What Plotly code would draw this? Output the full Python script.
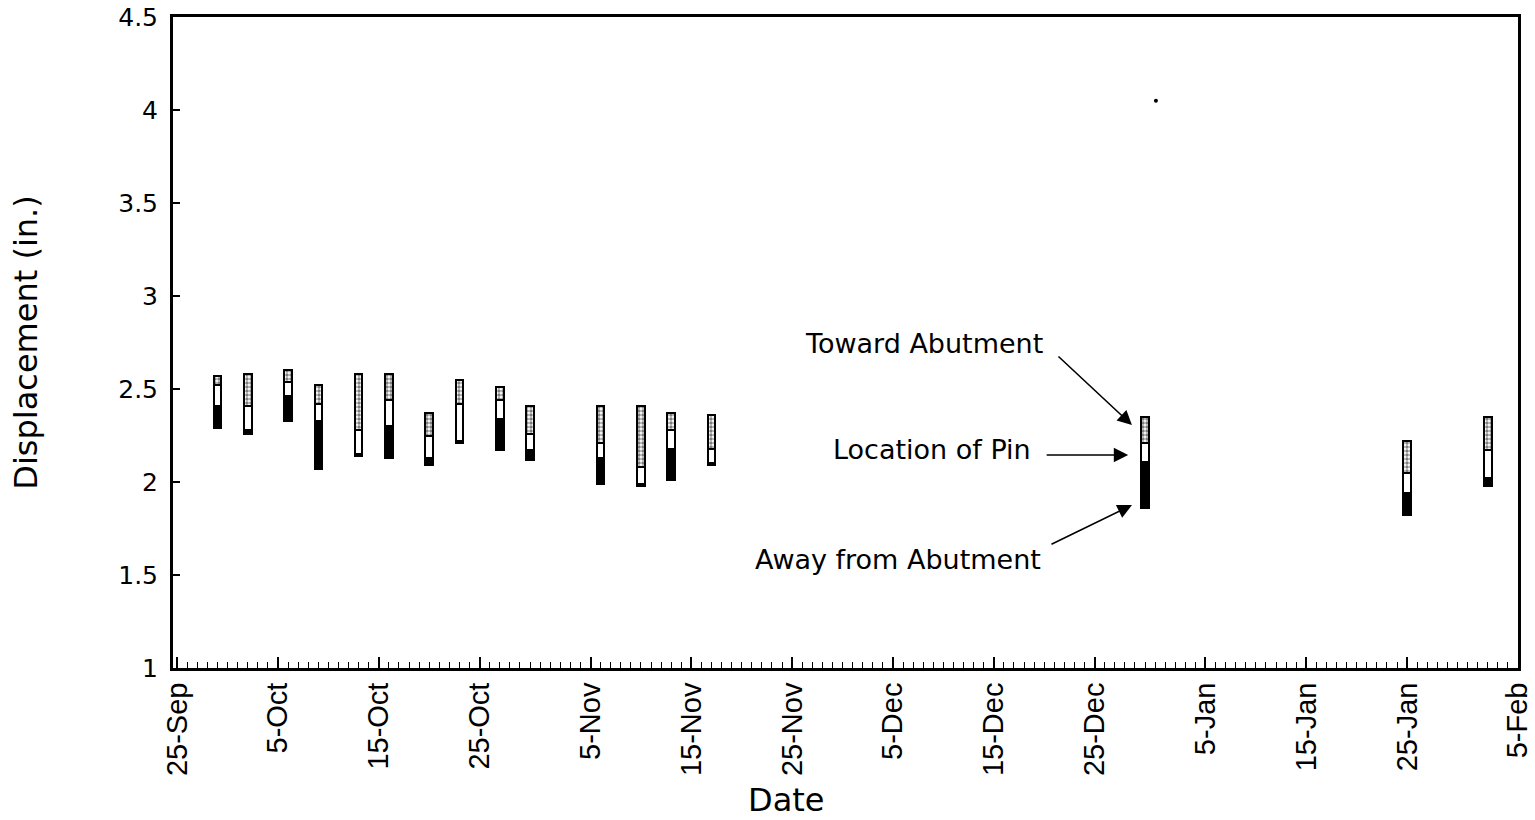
import plotly.graph_objects as go

# ---- data ----
dates = ["1999-09-29", "1999-10-02", "1999-10-06", "1999-10-09", "1999-10-13",
         "1999-10-16", "1999-10-20", "1999-10-23", "1999-10-27", "1999-10-30",
         "1999-11-06", "1999-11-10", "1999-11-13", "1999-11-17", "1999-12-30",
         "2000-01-25", "2000-02-02"]
high =    [2.57, 2.58, 2.60, 2.52, 2.58, 2.58, 2.37, 2.55, 2.51, 2.41,
           2.41, 2.41, 2.37, 2.36, 2.35, 2.22, 2.35]
pin_top = [2.52, 2.41, 2.54, 2.42, 2.28, 2.44, 2.25, 2.42, 2.44, 2.26,
           2.21, 2.08, 2.28, 2.18, 2.21, 2.05, 2.17]
pin_bot = [2.41, 2.28, 2.46, 2.33, 2.15, 2.30, 2.13, 2.22, 2.34, 2.17,
           2.13, 1.99, 2.18, 2.10, 2.11, 1.94, 2.02]
low =     [2.29, 2.26, 2.33, 2.07, 2.14, 2.13, 2.09, 2.21, 2.17, 2.12,
           1.99, 1.98, 2.01, 2.09, 1.86, 1.82, 1.98]

stray_x = ["1999-12-31 02:00"]
stray_y = [4.05]

tick_dates = ["1999-09-25", "1999-10-05", "1999-10-15", "1999-10-25", "1999-11-05",
              "1999-11-15", "1999-11-25", "1999-12-05", "1999-12-15", "1999-12-25",
              "2000-01-05", "2000-01-15", "2000-01-25", "2000-02-05"]
tick_labels = ["25-Sep", "5-Oct", "15-Oct", "25-Oct", "5-Nov", "15-Nov", "25-Nov",
               "5-Dec", "15-Dec", "25-Dec", "5-Jan", "15-Jan", "25-Jan", "5-Feb"]

DAY = 86400000
bw = 0.75 * DAY
WIDE = "DejaVu Sans, Verdana, sans-serif"
ARIAL = "Liberation Sans, Arial, sans-serif"

fig = go.Figure()
# Away from abutment (solid black)
fig.add_trace(go.Bar(x=dates, base=low, y=[b - l for b, l in zip(pin_bot, low)],
                     width=bw, marker=dict(color="black", line=dict(color="black", width=2)),
                     showlegend=False, hoverinfo="skip"))
# Location of pin (white)
fig.add_trace(go.Bar(x=dates, base=pin_bot, y=[t - b for t, b in zip(pin_top, pin_bot)],
                     width=bw, marker=dict(color="white", line=dict(color="black", width=2)),
                     showlegend=False, hoverinfo="skip"))
# Toward abutment (hatched)
fig.add_trace(go.Bar(x=dates, base=pin_top, y=[h - t for h, t in zip(high, pin_top)],
                     width=bw,
                     marker=dict(color="white", line=dict(color="black", width=2),
                                 pattern=dict(shape=".", fgcolor="black", bgcolor="white",
                                              size=4, solidity=0.6)),
                     showlegend=False, hoverinfo="skip"))
fig.add_trace(go.Scatter(x=stray_x, y=stray_y, mode="markers",
                         marker=dict(color="black", size=4), showlegend=False, hoverinfo="skip"))

# annotations: text
txt = dict(font=dict(family=WIDE, size=27, color="black"), showarrow=False,
           xref="x", yref="y", xanchor="right", yanchor="middle")
fig.add_annotation(text="Toward Abutment", x="1999-12-20 02:00", y=2.747, **txt)
fig.add_annotation(text="Location of Pin", x="1999-12-18 21:00", y=2.177, **txt)
fig.add_annotation(text="Away from Abutment", x="1999-12-19 21:00", y=1.581, **txt)
# axis title "Date" (sits left of centre in the reference)
fig.add_annotation(text="Date", xref="paper", yref="paper", x=0.456, y=-0.203,
                   xanchor="center", yanchor="middle", showarrow=False,
                   font=dict(family=WIDE, size=32, color="black"))
# annotations: arrows
arr = dict(text="", showarrow=True, arrowhead=2, arrowsize=1.8, arrowwidth=1.6,
           arrowcolor="black", xref="x", yref="y", axref="pixel", ayref="pixel")
fig.add_annotation(x="1999-12-28 17:00", y=2.306, ax=-75, ay=-70, **arr)
fig.add_annotation(x="1999-12-28 08:00", y=2.145, ax=-83, ay=0, **arr)
fig.add_annotation(x="1999-12-28 17:00", y=1.876, ax=-82, ay=40, **arr)

fig.update_layout(
    width=1535, height=820,
    margin=dict(l=173, r=17, t=17, b=152),
    plot_bgcolor="white", paper_bgcolor="white",
    barmode="overlay", bargap=0,
    font=dict(family=WIDE, size=25, color="black"),
    xaxis=dict(
        type="date", range=["1999-09-24 14:00", "2000-02-05"], automargin=False,
        tickmode="array", tickvals=tick_dates, ticktext=tick_labels,
        tickangle=-90, ticks="inside", ticklen=11, tickwidth=1.8, tickcolor="black",
        tickfont=dict(family=ARIAL, size=29), ticklabelstandoff=0,
        ticklabeloverflow="allow",
        minor=dict(ticks="inside", dtick=DAY, tick0="1999-09-25", ticklen=6,
                   tickwidth=1.4, tickcolor="black"),
        showline=True, linecolor="black", linewidth=3, mirror=True,
        showgrid=False, zeroline=False,
    ),
    yaxis=dict(
        range=[1, 4.5], dtick=0.5, tick0=1, automargin=False,
        ticks="inside", ticklen=7, tickwidth=1.8, tickcolor="black",
        tickfont=dict(family=WIDE, size=25), ticklabelstandoff=7,
        ticklabeloverflow="allow",
        showline=True, linecolor="black", linewidth=3, mirror=True,
        showgrid=False, zeroline=False,
        title=dict(text="Displacement (in.)", font=dict(family=WIDE, size=32), standoff=72),
    ),
)

fig.write_html("out.html", config={"displayModeBar": False},
               post_script="document.body.style.margin='0px';")
